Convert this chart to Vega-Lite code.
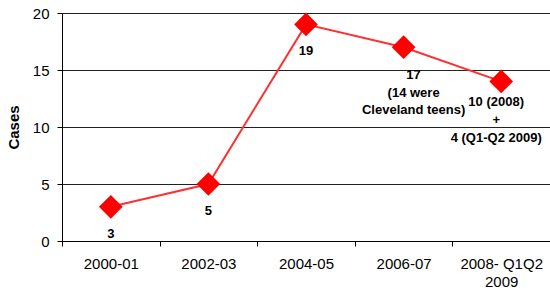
{
  "$schema": "https://vega.github.io/schema/vega-lite/v6.json",
  "width": 488,
  "height": 228,
  "autosize": {"type": "none"},
  "padding": {"left": 62, "top": 13, "right": 0, "bottom": 54},
  "background": "white",
  "config": {
    "view": {"stroke": null},
    "font": "Liberation Sans"
  },
  "data": {
    "values": [
      {"period": "2000-01", "cases": 3, "label": ["3"], "grp": "a"},
      {"period": "2002-03", "cases": 5, "label": ["5"], "grp": "a"},
      {"period": "2004-05", "cases": 19, "label": ["19"], "grp": "a"},
      {"period": "2006-07", "cases": 17, "label": ["17", "(14 were", "Cleveland teens)"], "grp": "b"},
      {"period": "2008- Q1Q2 2009", "cases": 14, "label": ["10 (2008)", "+", "4 (Q1-Q2 2009)"], "grp": "c"}
    ]
  },
  "encoding": {
    "x": {
      "field": "period",
      "type": "ordinal",
      "sort": null,
      "bandPosition": 0.5,
      "scale": {"type": "band", "paddingInner": 0, "paddingOuter": 0},
      "axis": {
        "title": null,
        "labelAngle": 0,
        "labelFont": "Liberation Sans",
        "labelFontSize": 15,
        "labelColor": "#000",
        "labelPadding": 10,
        "labelLineHeight": 18,
        "labelExpr": "datum.value == '2008- Q1Q2 2009' ? ['2008- Q1Q2', '2009'] : datum.value",
        "tickBand": "extent",
        "tickSize": 5,
        "tickColor": "#000",
        "domainColor": "#000",
        "grid": false
      }
    },
    "y": {
      "field": "cases",
      "type": "quantitative",
      "scale": {"domain": [0, 20]},
      "axis": {
        "title": "Cases",
        "titleFont": "Liberation Sans",
        "titleFontSize": 15,
        "titleFontWeight": "bold",
        "titleColor": "#000",
        "titlePadding": 11,
        "values": [0, 5, 10, 15, 20],
        "labelFont": "Liberation Sans",
        "labelFontSize": 15,
        "labelColor": "#000",
        "labelPadding": 8,
        "tickSize": 5,
        "tickColor": "#000",
        "domainColor": "#000",
        "gridColor": "#222",
        "gridOpacity": 1
      }
    }
  },
  "layer": [
    {
      "mark": {"type": "line", "color": "#FF3030", "strokeWidth": 2}
    },
    {
      "mark": {"type": "point", "shape": "diamond", "filled": true, "opacity": 1, "color": "#FF0000", "size": 560}
    },
    {
      "transform": [{"filter": "datum.grp == 'a'"}],
      "mark": {"type": "text", "font": "Liberation Sans", "fontSize": 13, "fontWeight": "bold", "color": "#000", "baseline": "alphabetic", "dy": 31},
      "encoding": {"text": {"field": "label"}}
    },
    {
      "transform": [{"filter": "datum.grp == 'b'"}],
      "mark": {"type": "text", "font": "Liberation Sans", "fontSize": 13, "fontWeight": "bold", "color": "#000", "baseline": "alphabetic", "dy": 32, "dx": 10, "lineHeight": 17.5},
      "encoding": {"text": {"field": "label"}}
    },
    {
      "transform": [{"filter": "datum.grp == 'c'"}],
      "mark": {"type": "text", "font": "Liberation Sans", "fontSize": 13, "fontWeight": "bold", "color": "#000", "baseline": "alphabetic", "dy": 25, "dx": -5, "lineHeight": 18},
      "encoding": {"text": {"field": "label"}}
    }
  ]
}
